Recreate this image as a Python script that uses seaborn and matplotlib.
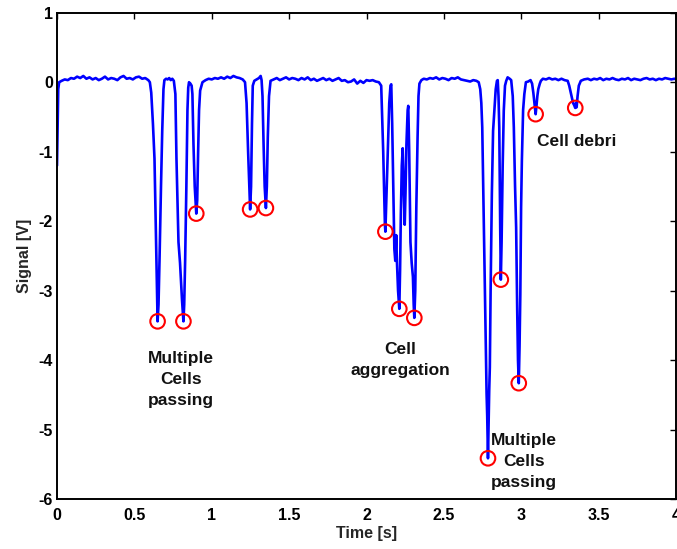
import matplotlib
matplotlib.use("Agg")
import matplotlib.pyplot as plt
import numpy as np
import pandas as pd
import seaborn as sns

# Recorded impedance trace: time [s] and signal [V]
time_s = [
    0.000, 0.004, 0.008, 0.014, 0.03, 0.05, 0.07, 0.09, 0.11, 0.13, 0.15, 0.17, 0.19,
    0.21, 0.23, 0.25, 0.27, 0.29, 0.31, 0.33, 0.35, 0.37, 0.39, 0.41, 0.43, 0.45, 0.47,
    0.49, 0.51, 0.53, 0.55, 0.57, 0.59, 0.600,
    0.609, 0.62, 0.63, 0.64, 0.646, 0.650, 0.656, 0.663, 0.672, 0.680, 0.688, 0.694,
    0.705, 0.715, 0.725, 0.735, 0.745, 0.755,
    0.765, 0.772, 0.785, 0.795, 0.808, 0.817, 0.822, 0.828, 0.836, 0.843, 0.848, 0.853,
    0.862, 0.870,
    0.875, 0.882, 0.890, 0.896, 0.900, 0.906, 0.912, 0.918, 0.925, 0.94, 0.96, 0.98,
    1.00, 1.02, 1.04, 1.06, 1.08, 1.10, 1.12, 1.14, 1.16, 1.18, 1.20, 1.215,
    1.225, 1.235, 1.243, 1.248, 1.254, 1.260, 1.265, 1.275, 1.29, 1.305, 1.316, 1.322,
    1.328, 1.335, 1.342, 1.350, 1.356, 1.362, 1.370, 1.38, 1.40, 1.42, 1.44, 1.46, 1.48,
    1.50, 1.52, 1.54, 1.56, 1.58, 1.60, 1.62, 1.64, 1.66, 1.68, 1.70, 1.72, 1.74, 1.76,
    1.78, 1.80, 1.82, 1.84, 1.86, 1.88, 1.90, 1.92, 1.94, 1.96, 1.98, 2.00, 2.02, 2.04,
    2.06, 2.08, 2.095,
    2.100, 2.108, 2.114, 2.119, 2.122, 2.128, 2.138, 2.147, 2.155, 2.160, 2.166, 2.173,
    2.180, 2.186, 2.192, 2.197, 2.204, 2.212, 2.217, 2.222, 2.228, 2.234, 2.240, 2.247,
    2.252, 2.258, 2.266, 2.270, 2.276, 2.284, 2.292, 2.300, 2.305, 2.309, 2.315, 2.322,
    2.330, 2.336, 2.342, 2.355, 2.37, 2.39, 2.41, 2.43, 2.45, 2.47, 2.49, 2.51, 2.53,
    2.55, 2.57, 2.59, 2.61, 2.63, 2.65, 2.67, 2.69, 2.71, 2.725, 2.735,
    2.742, 2.748, 2.755, 2.762, 2.770, 2.776, 2.780, 2.785, 2.789, 2.793, 2.797, 2.802,
    2.810, 2.818, 2.826, 2.835, 2.843, 2.848, 2.853, 2.858, 2.864, 2.868, 2.873, 2.880,
    2.887, 2.895, 2.903, 2.912, 2.925, 2.935, 2.945, 2.952, 2.960, 2.967, 2.974, 2.979,
    2.984, 2.989, 2.994, 2.999, 3.004, 3.012, 3.020, 3.030, 3.045, 3.06, 3.07, 3.078,
    3.085, 3.093, 3.098, 3.104, 3.110, 3.120, 3.127, 3.14, 3.16, 3.18, 3.20, 3.22, 3.24,
    3.26, 3.28, 3.30, 3.31, 3.325, 3.335, 3.342, 3.349, 3.353, 3.358, 3.364, 3.372,
    3.385, 3.406, 3.43, 3.45, 3.47, 3.49, 3.51, 3.53, 3.55, 3.57, 3.59, 3.61, 3.63,
    3.65, 3.67, 3.69, 3.71, 3.73, 3.75, 3.77, 3.79, 3.81, 3.83, 3.85, 3.87, 3.89, 3.91,
    3.93, 3.95, 3.97, 3.99, 4.00,
]
signal_v = [
    -1.20, -0.60, -0.10, 0.00, 0.02, 0.04, 0.03, 0.06, 0.05, 0.08, 0.06, 0.09, 0.05,
    0.07, 0.04, 0.06, 0.03, 0.05, 0.08, 0.04, 0.06, 0.05, 0.03, 0.07, 0.09, 0.05, 0.06,
    0.04, 0.07, 0.08, 0.05, 0.06, 0.03, 0.00,
    -0.15, -0.60, -1.10, -2.30, -3.10, -3.44, -3.20, -2.50, -1.50, -0.70, -0.10, 0.03,
    0.05, 0.04, 0.06, 0.03, 0.05, 0.02,
    -0.17, -1.10, -2.30, -2.60, -3.14, -3.44, -3.20, -2.57, -1.50, -0.40, -0.08, 0.00,
    -0.02, -0.05,
    -0.17, -0.90, -1.50, -1.75, -1.89, -1.70, -1.00, -0.40, -0.12, 0.00, 0.03, 0.05,
    0.04, 0.06, 0.05, 0.07, 0.05, 0.08, 0.06, 0.09, 0.07, 0.06, 0.04, 0.00,
    -0.30, -1.00, -1.50, -1.83, -1.50, -0.60, -0.05, 0.02, 0.04, 0.06, 0.09, 0.03,
    -0.20, -0.90, -1.50, -1.81, -1.50, -0.80, -0.20, 0.02, 0.04, 0.06, 0.03, 0.05, 0.07,
    0.04, 0.06, 0.05, 0.03, 0.06, 0.04, 0.07, 0.03, 0.05, 0.02, 0.04, 0.06, 0.03, 0.05,
    0.02, 0.04, 0.06, 0.02, 0.03, 0.00, 0.01, 0.04, -0.02, 0.02, -0.01, 0.03, 0.02, 0.03,
    0.01, 0.00, -0.05,
    -0.40, -1.00, -1.60, -2.05, -2.15, -1.70, -0.90, -0.30, -0.05, -0.03, -0.60, -1.50,
    -2.40, -2.57, -2.20, -2.60, -3.00, -3.26, -2.70, -1.90, -1.20, -0.95, -1.50, -2.05,
    -1.60, -0.90, -0.40, -0.34, -1.00, -2.30, -2.60, -2.80, -3.20, -3.39, -3.00, -1.80,
    -0.80, -0.20, -0.02, 0.03, 0.05, 0.04, 0.06, 0.05, 0.07, 0.04, 0.06, 0.05, 0.03,
    0.06, 0.05, 0.07, 0.04, 0.03, 0.02, 0.01, 0.03, 0.02, 0.00, -0.10,
    -0.30, -0.65, -1.60, -2.57, -3.60, -4.48, -4.80, -5.41, -4.90, -4.43, -4.10, -3.00,
    -1.61, -0.70, -0.41, -0.10, 0.02, 0.03, -0.20, -0.65, -2.09, -2.84, -2.30, -1.20,
    -0.41, -0.05, 0.02, 0.07, 0.05, 0.03, -0.20, -0.65, -1.50, -2.09, -3.30, -4.00,
    -4.33, -3.80, -3.05, -1.80, -1.13, -0.40, -0.17, 0.00, 0.01, 0.03, -0.02, -0.15,
    -0.30, -0.46, -0.35, -0.20, -0.10, -0.02, 0.02, 0.05, 0.04, 0.06, 0.04, 0.05, 0.03,
    0.05, 0.03, 0.02, -0.05, -0.20, -0.30, -0.33, -0.37, -0.30, -0.36, -0.20, -0.05,
    0.02, 0.04, 0.05, 0.03, 0.05, 0.04, 0.06, 0.03, 0.05, 0.04, 0.06, 0.04, 0.03,
    0.05, 0.04, 0.06, 0.03, 0.05, 0.04, 0.03, 0.05, 0.06, 0.04, 0.05, 0.03, 0.05, 0.04,
    0.06, 0.05, 0.04, 0.05, 0.04,
]

# Detected event minima
event_t = [0.650, 0.817, 0.900, 1.248, 1.350, 2.122, 2.212, 2.309, 2.785, 2.868, 2.984, 3.093, 3.349]
event_v = [-3.44, -3.44, -1.89, -1.83, -1.81, -2.15, -3.26, -3.39, -5.41, -2.84, -4.33, -0.46, -0.37]

# Event annotations: text, x, y
notes = ["Multiple\nCells\npassing", "Cell\naggregation", "Multiple\nCells\npassing", "Cell debri"]
note_x = [0.80, 2.22, 3.02, 3.36]
note_y = [-4.27, -4.0, -5.45, -0.86]

x_ticks = [0, 0.5, 1, 1.5, 2, 2.5, 3, 3.5, 4]
x_tick_labels = ["0", "0.5", "1", "1.5", "2", "2.5", "3", "3.5", "4"]
y_ticks = [-6, -5, -4, -3, -2, -1, 0, 1]

sns.set_style("white")
plt.rcParams["font.family"] = ["Liberation Sans", "DejaVu Sans"]
plt.rcParams["font.weight"] = "bold"

trace = pd.DataFrame({"t": time_s, "v": signal_v})
events = pd.DataFrame({"t": event_t, "v": event_v})

fig = plt.figure(figsize=(6.77, 5.49), dpi=100)
ax = fig.add_axes([57 / 677, 1 - 499.3 / 549, 619 / 677, 486.6 / 549])

sns.lineplot(data=trace, x="t", y="v", sort=False, estimator=None,
             color="#0000ff", linewidth=1.9, ax=ax)
sns.scatterplot(data=events, x="t", y="v", marker="o", s=110,
                facecolors="none", edgecolors="#ff0000", linewidth=1.5,
                ax=ax, zorder=3)

for txt, tx, ty in zip(notes, note_x, note_y):
    ax.text(tx, ty, txt, ha="center", va="center", fontsize=12.5,
            fontweight="bold", linespacing=1.5, color="#111111")

ax.set_xlim(0, 4)
ax.set_ylim(-6, 1)
ax.set_xticks(x_ticks)
ax.set_xticklabels(x_tick_labels)
ax.set_yticks(y_ticks)
ax.set_yticklabels([str(v) for v in y_ticks])
ax.tick_params(direction="in", length=4, width=1, top=True, right=True,
               labelsize=11.5, colors="black")
ax.tick_params(axis="x", pad=6.5)
ax.tick_params(axis="y", pad=3)
for lbl in ax.get_xticklabels() + ax.get_yticklabels():
    lbl.set_fontweight("bold")

ax.set_xlabel("Time [s]", fontsize=11.5, fontweight="bold", labelpad=2)
ax.set_ylabel("Signal [V]", fontsize=11.5, fontweight="bold", labelpad=5)

for side in ax.spines.values():
    side.set_visible(True)
    side.set_color("black")
    side.set_linewidth(1.4)

fig.savefig("out.png", dpi=100)
